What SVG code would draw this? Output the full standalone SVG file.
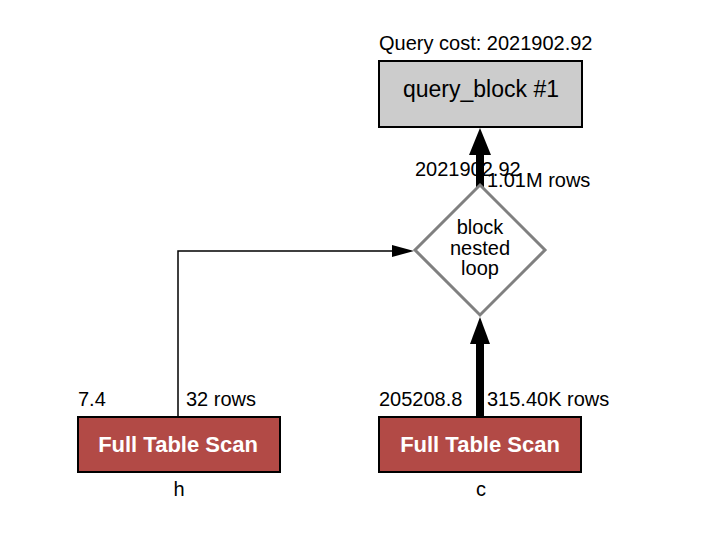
<svg xmlns="http://www.w3.org/2000/svg" width="704" height="538" viewBox="0 0 704 538">
<style>
text{font-family:"Liberation Sans",Arial,sans-serif;fill:#000}
.lbl{font-size:20px}
.scan{fill:#b24a46;stroke:#000;stroke-width:2}
.scant{font-size:22px;font-weight:bold;fill:#fff;text-anchor:middle}
.dt{font-size:20px;text-anchor:middle}
</style>
<rect width="704" height="538" fill="#fff"/>
<g id="connectors">
<polyline points="178,417 178,251 394,251" fill="none" stroke="#000" stroke-width="1.5"/>
<path d="M392,245 L414,251 L392,257 Z" fill="#000"/>
<line x1="480" y1="417" x2="480" y2="340" stroke="#000" stroke-width="8"/>
<path d="M470,344 L480,317 L490,344 Z" fill="#000"/>
<line x1="480" y1="187" x2="480" y2="152" stroke="#000" stroke-width="8"/>
<path d="M469,155 L480,128 L491,155 Z" fill="#000"/>
<text class="lbl" x="415" y="176">2021902.92</text>
<text class="lbl" x="487" y="187">1.01M rows</text>
<text class="lbl" x="78" y="406">7.4</text>
<text class="lbl" x="186" y="406">32 rows</text>
<text class="lbl" x="379" y="406">205208.8</text>
<text class="lbl" x="487" y="406">315.40K rows</text>
</g>
<g id="query_block">
<text class="lbl" x="379" y="50">Query cost: 2021902.92</text>
<rect x="379" y="61" width="203" height="66" fill="#cccccc" stroke="#000" stroke-width="2"/>
<text x="481" y="97" font-size="23" text-anchor="middle">query_block #1</text>
</g>
<g id="bnl">
<polygon points="480,185 545,250 480,315 415,250" fill="#fff" stroke="#808080" stroke-width="3"/>
<text class="dt" x="480" y="234">block</text>
<text class="dt" x="480" y="255">nested</text>
<text class="dt" x="480" y="275">loop</text>
</g>
<g id="scan_h">
<rect class="scan" x="78" y="417" width="202" height="55"/>
<text class="scant" x="178" y="452">Full Table Scan</text>
<text x="179" y="496" font-size="20" text-anchor="middle">h</text>
</g>
<g id="scan_c">
<rect class="scan" x="379" y="417" width="202" height="55"/>
<text class="scant" x="480" y="452">Full Table Scan</text>
<text x="481" y="496" font-size="20" text-anchor="middle">c</text>
</g>
</svg>
